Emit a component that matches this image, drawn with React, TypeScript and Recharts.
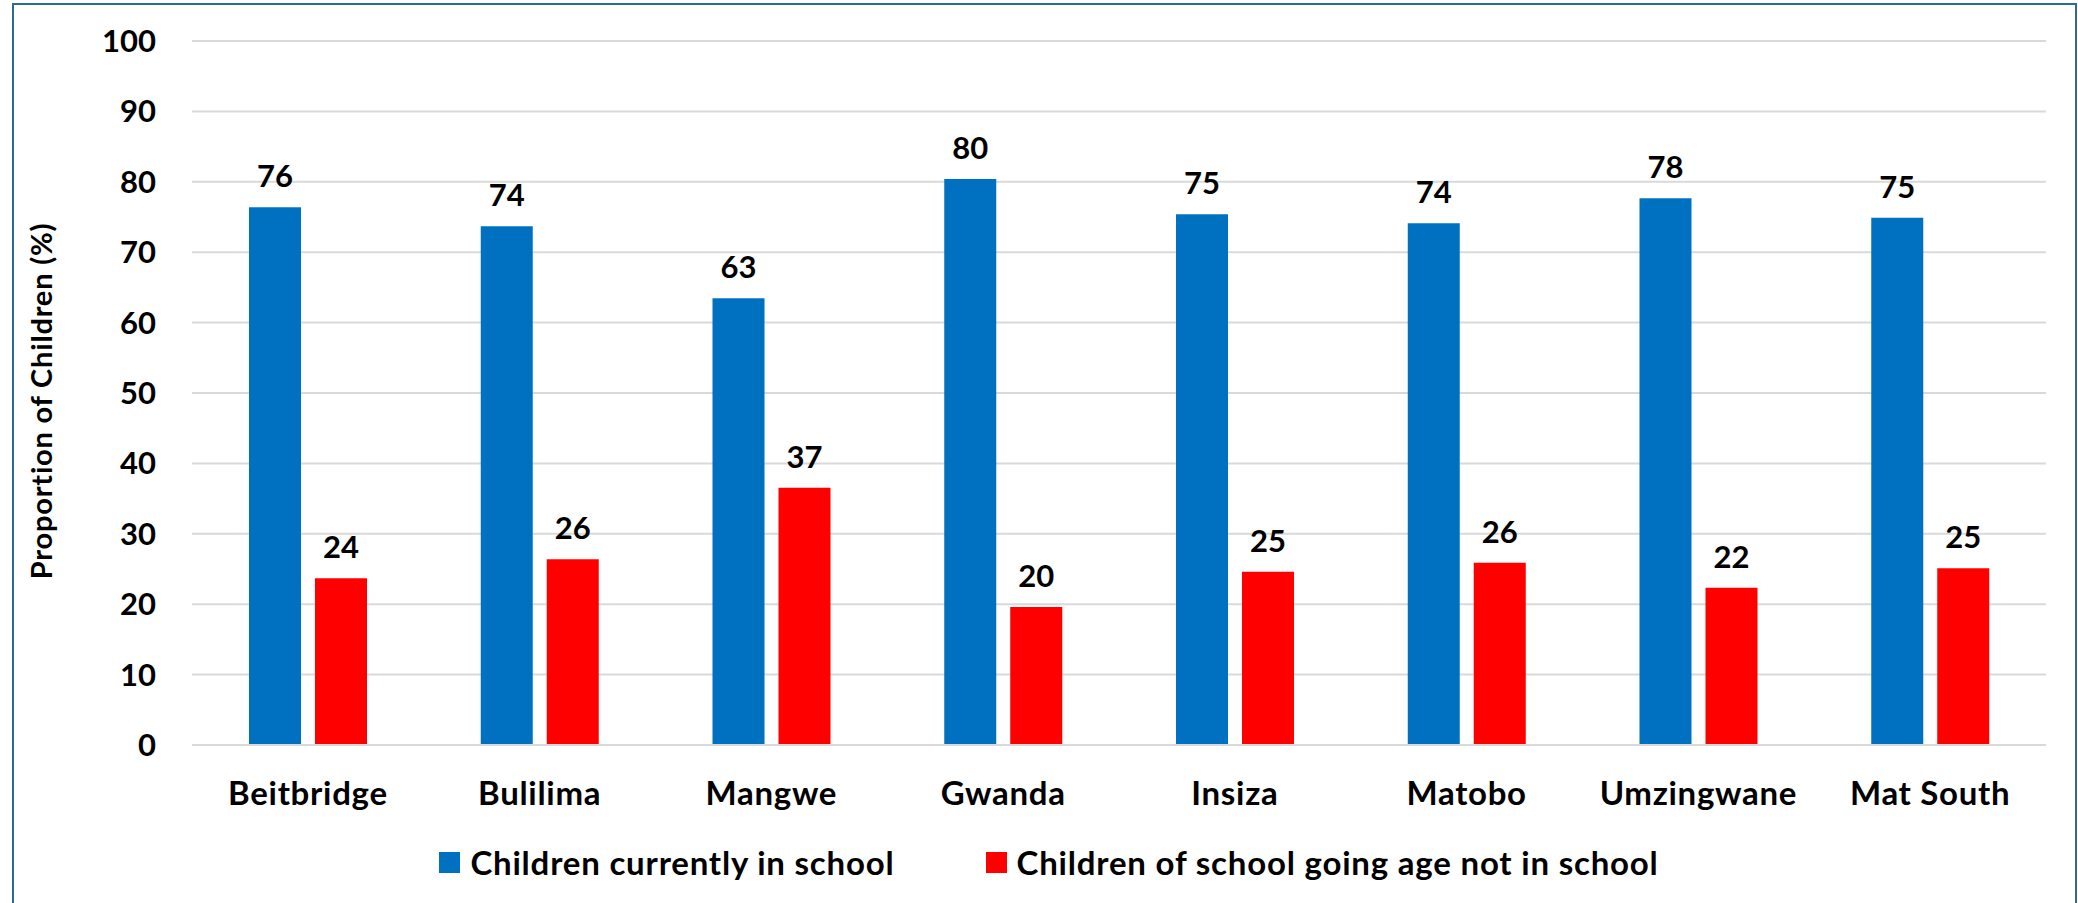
import React from "react";
import {
  Bar,
  BarChart,
  CartesianGrid,
  LabelList,
  Legend,
  XAxis,
  YAxis,
} from "recharts";

const districts = [
  "Beitbridge",
  "Bulilima",
  "Mangwe",
  "Gwanda",
  "Insiza",
  "Matobo",
  "Umzingwane",
  "Mat South",
];

const inSchool = [76.4, 73.7, 63.45, 80.4, 75.4, 74.1, 77.65, 74.9];
const notInSchool = [23.7, 26.4, 36.55, 19.6, 24.6, 25.9, 22.35, 25.1];

const yTicks = [0, 10, 20, 30, 40, 50, 60, 70, 80, 90, 100];

const data = districts.map((name, i) => ({
  name,
  inSchool: inSchool[i],
  notInSchool: notInSchool[i],
}));

const FONT = "Lato, 'Open Sans', sans-serif";
const BLUE = "#0070C0";
const RED = "#FF0000";
const GRID = "#D9D9D9";

const numStyle = {
  fill: "#000",
  fontSize: 31,
  fontWeight: 700,
  fontFamily: FONT,
};

const catStyle = {
  fill: "#000",
  fontSize: 33,
  fontWeight: 700,
  fontFamily: FONT,
  letterSpacing: 0.7,
};

function YTitle(props: any) {
  const vb = props.viewBox || { x: 0, y: 0, width: 0, height: 0 };
  const cx = vb.x + 40;
  const cy = vb.y + vb.height / 2 + 8;
  return (
    <text
      x={cx}
      y={cy}
      transform={`rotate(-90 ${cx} ${cy})`}
      textAnchor="middle"
      dominantBaseline="central"
      fill="#000"
      fontSize={29}
      fontWeight={700}
      fontFamily={FONT}
      letterSpacing={0.8}
    >
      Proportion of Children (%)
    </text>
  );
}

function renderLegend(props: any) {
  const { payload } = props;
  return (
    <div
      style={{
        display: "flex",
        justifyContent: "center",
        gap: 91,
        fontFamily: FONT,
        fontWeight: 700,
        fontSize: 33,
        letterSpacing: 0.8,
        lineHeight: "38px",
        color: "#000",
      }}
    >
      {payload.map((item: any) => (
        <div
          key={item.value}
          style={{ display: "flex", alignItems: "center" }}
        >
          <span
            style={{
              display: "inline-block",
              width: 21,
              height: 21,
              background: item.color,
              marginRight: 10,
            }}
          />
          <span>{item.value}</span>
        </div>
      ))}
    </div>
  );
}

const roundLabel = (v: any) => Math.round(Number(v));

export default function App() {
  return (
    <div
      style={{
        position: "absolute",
        left: 0,
        top: 0,
        width: 2078,
        height: 903,
        background: "#fff",
        overflow: "hidden",
      }}
    >
      <div
        style={{
          position: "absolute",
          left: 12,
          top: 3,
          width: 2061,
          height: 910,
          border: "2px solid #2F6B90",
        }}
      />
      <BarChart
        width={2078}
        height={903}
        data={data}
        margin={{ top: 41, right: 32, bottom: 0, left: 0 }}
        barSize={52}
        barGap={14}
        style={{ position: "absolute", left: 0, top: 0 }}
      >
        <CartesianGrid
          vertical={false}
          stroke={GRID}
          strokeWidth={2}
        />
        <XAxis
          dataKey="name"
          height={158}
          axisLine={{ stroke: GRID, strokeWidth: 2 }}
          tickLine={false}
          tickSize={0}
          tickMargin={37}
          tick={catStyle}
          interval={0}
        />
        <YAxis
          width={192}
          domain={[0, 100]}
          ticks={yTicks}
          axisLine={false}
          tickLine={false}
          tickSize={0}
          tickMargin={36}
          tick={numStyle}
          label={{ content: YTitle }}
        />
        <Legend
          verticalAlign="middle"
          align="center"
          content={renderLegend}
          wrapperStyle={{ top: 843, left: 10, width: 2078 }}
        />
        <Bar
          dataKey="inSchool"
          name="Children currently in school"
          fill={BLUE}
          isAnimationActive={false}
        >
          <LabelList
            dataKey="inSchool"
            position="top"
            offset={20}
            formatter={roundLabel}
            style={numStyle}
          />
        </Bar>
        <Bar
          dataKey="notInSchool"
          name="Children of school going age not in school"
          fill={RED}
          isAnimationActive={false}
        >
          <LabelList
            dataKey="notInSchool"
            position="top"
            offset={20}
            formatter={roundLabel}
            style={numStyle}
          />
        </Bar>
      </BarChart>
    </div>
  );
}
